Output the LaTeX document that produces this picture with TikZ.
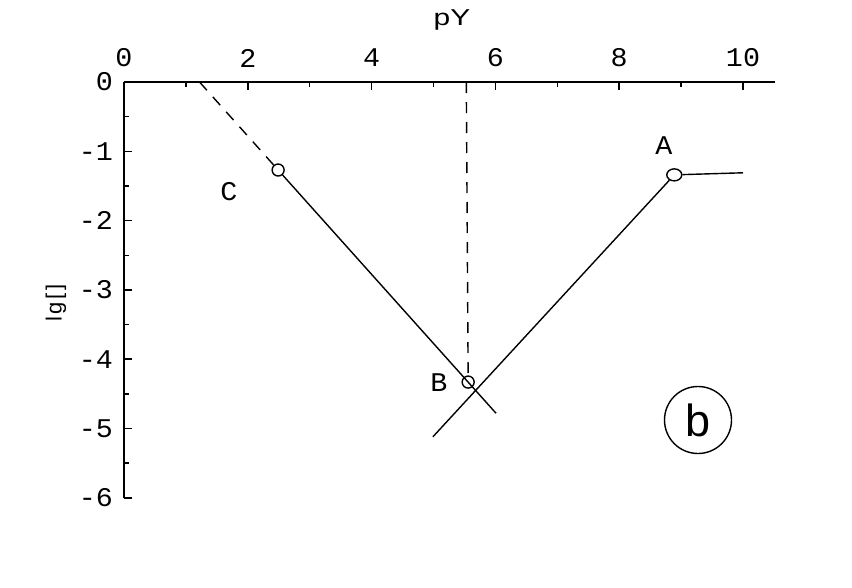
\documentclass[tikz,border=0pt]{standalone}
\usepackage{fontspec}
\usetikzlibrary{calc,shapes.geometric}
\newfontfamily\monof{Liberation Mono}
\newfontfamily\sansf{Liberation Sans}
\begin{document}
\begin{tikzpicture}[x=1pt,y=1pt,
  axisline/.style={line width=1.5pt,black},
  curve/.style={line width=1.4pt,black},
  dashline/.style={line width=1.4pt,black,dash pattern=on 11pt off 9pt},
  ticklab/.style={font=\monof\fontsize{27}{27}\selectfont,inner sep=0pt,xscale=1.05},
  ptlab/.style={font=\monof\fontsize{27}{27}\selectfont,inner sep=0pt,xscale=1.05},
  marker/.style={draw,circle,line width=1.4pt,minimum size=12pt,inner sep=0pt},
]
\useasboundingbox (0,-587) rectangle (852,0);
\fill[white] (0,-587) rectangle (852,0);
\begin{scope}[shift={(124,-82)},x=61.9pt,y=69.3pt]
  % axes
  \coordinate (o) at (0,0);
  \coordinate (xend) at (10.52,0);
  \coordinate (yend) at (0,-6);
  \draw[axisline] (o) -- (xend);
  \draw[axisline] (o) -- (yend);
  % x ticks
  \foreach \i in {0,2,4,6,8,10} {
    \draw[axisline] (\i,0) -- ++(0,-8pt);
    \node[ticklab] at ($(\i,0)+(0,24pt)$) {\i};
  }
  \foreach \i in {1,3,5,7,9} \draw[axisline] (\i,0) -- ++(0,-5pt);
  % y ticks
  \foreach \j in {0,1,2,3,4,5,6} {
    \draw[axisline] (0,-\j) -- ++(8pt,0);
  }
  \foreach \j in {0.5,1.5,2.5,3.5,4.5,5.5} \draw[axisline] (0,-\j) -- ++(5pt,0);
  \node[ticklab,anchor=east] at ($(0,0)+(-11pt,0)$) {0};
  \foreach \j in {1,2,3,4,5,6}
    \node[ticklab,anchor=east] at ($(0,-\j)+(-11pt,0)$) {-\j};
  % points
  \coordinate (c0) at (1.22,0);
  \node[marker] (C) at (2.49,-1.27) {};
  \coordinate (c1) at (6.01,-4.78);
  \node[marker] (B) at (5.56,-4.33) {};
  \coordinate (b0) at (5.53,0);
  \coordinate (a0) at (4.99,-5.12);
  \node[draw,ellipse,line width=1.4pt,inner sep=0pt,minimum width=15pt,minimum height=12pt] (A) at (8.89,-1.34) {};
  \coordinate (a1) at (10,-1.31);
  \draw[dashline] (c0) -- (C);
  \draw[curve] (C) -- (c1);
  \draw[dashline] (b0) -- (B);
  \draw[curve] (a0) -- (A);
  \draw[curve] (A) -- (a1);
\end{scope}
\node[font=\sansf\fontsize{23}{23}\selectfont,xscale=1.3,inner sep=0pt] (pY) at (452,-20) {pY};
\node[font=\sansf\fontsize{22}{22}\selectfont,rotate=90,inner sep=0pt] (lg) at (56,-303) {l\kern2pt g\kern3pt[\kern3pt]};
\node[ptlab] (Cl) at (229,-192) {C};
\node[ptlab] (Al) at (664,-146) {A};
\node[ptlab] (Bl) at (439,-383) {B};
\node[draw,circle,line width=1.4pt,minimum size=67pt,inner sep=0pt,font=\sansf\fontsize{45}{45}\selectfont] (bb) at (698,-420) {b};
\end{tikzpicture}
\end{document}
